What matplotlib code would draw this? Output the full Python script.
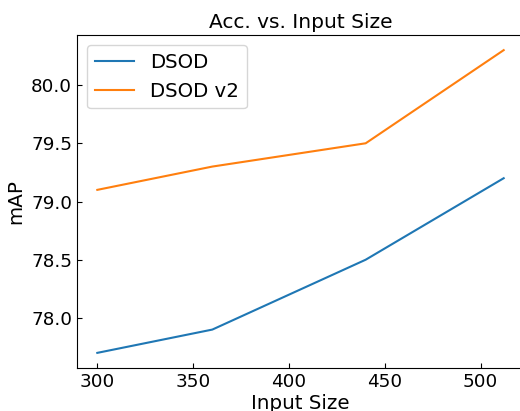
import matplotlib
matplotlib.use("Agg")
import matplotlib.pyplot as plt

input_sizes = [300, 360, 440, 512]
dsod = [77.7, 77.9, 78.5, 79.2]
dsod_v2 = [79.1, 79.3, 79.5, 80.3]

fig = plt.figure(figsize=(5.2, 4.11), dpi=100)
W, H = 520, 411
ax = fig.add_axes([77 / W, (H - 368) / H, (524 - 77) / W, (368 - 35) / H])
ax.plot(input_sizes, dsod, color="#1f77b4", lw=1.5, label="DSOD")
ax.plot(input_sizes, dsod_v2, color="#ff7f0e", lw=1.5, label="DSOD v2")
ax.set_title("Acc. vs. Input Size", fontsize=14.5, pad=5)
ax.set_xlabel("Input Size", fontsize=14.3, labelpad=2)
ax.set_ylabel("mAP", fontsize=14.3)
ax.tick_params(direction="in", labelsize=13.2)
ax.set_xticks([300, 350, 400, 450, 500])
ax.set_yticks([78.0, 78.5, 79.0, 79.5, 80.0])
ax.set_yticklabels(["78.0", "78.5", "79.0", "79.5", "80.0"])
ax.legend(fontsize=14.2, loc="upper left")
fig.savefig("out.png", dpi=100)
